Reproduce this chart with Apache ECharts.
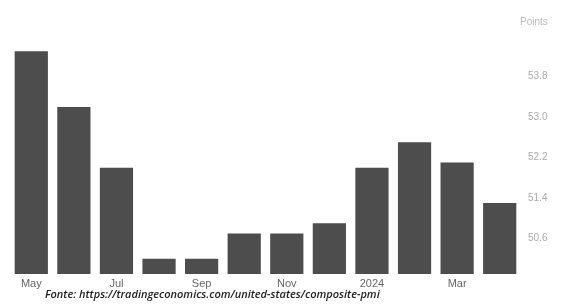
<!DOCTYPE html>
<html>
<head>
<meta charset="utf-8">
<style>
  html, body { margin: 0; padding: 0; background: #fff; }
  #chart { width: 575px; height: 305px; }
</style>
<script src="https://cdn.jsdelivr.net/npm/echarts@6/dist/echarts.min.js"></script>
</head>
<body>
<div id="chart"></div>
<script>
// meses (mai/2023 - abr/2024)
const months = ['May', 'Jun', 'Jul', 'Aug', 'Sep', 'Oct', 'Nov', 'Dec', '2024', 'Feb', 'Mar', 'Apr']
// PMI composto EUA
const pmiValues = [54.3, 53.2, 52.0, 50.2, 50.2, 50.7, 50.7, 50.9, 52.0, 52.5, 52.1, 51.3]
// rótulos do eixo y
const yTicks = [50.6, 51.4, 52.2, 53.0, 53.8]

const chart = echarts.init(document.getElementById('chart'))

const option = {
  animation: false,
  backgroundColor: '#fff',
  grid: { left: 10, right: 54, top: 36, bottom: 31 },
  xAxis: {
    type: 'category',
    data: months,
    axisLine: { show: false },
    axisTick: { show: false },
    axisLabel: {
      interval: 1,
      margin: 4,
      color: '#666',
      fontSize: 11,
      fontFamily: 'Liberation Sans'
    }
  },
  yAxis: {
    type: 'value',
    position: 'right',
    min: 49.9,
    max: 54.6,
    splitLine: { show: false },
    axisLine: { show: false },
    axisTick: { show: false },
    axisLabel: {
      customValues: yTicks,
      formatter: v => v.toFixed(1),
      margin: 7,
      color: '#aaa',
      fontSize: 10,
      fontFamily: 'Liberation Sans'
    }
  },
  series: [
    {
      type: 'bar',
      data: pmiValues,
      barCategoryGap: '22%',
      itemStyle: { color: '#4d4d4d' }
    }
  ],
  graphic: [
    {
      type: 'text',
      left: 520,
      top: 17,
      style: { text: 'Points', fill: '#bbb', fontSize: 10, fontFamily: 'Liberation Sans' }
    },
    {
      type: 'text',
      left: 45,
      top: 289,
      style: {
        text: 'Fonte: https://tradingeconomics.com/united-states/composite-pmi',
        fill: '#222',
        fontSize: 11,
        fontWeight: 600,
        fontStyle: 'italic',
        fontFamily: 'Open Sans'
      }
    }
  ]
}

chart.setOption(option)
</script>
</body>
</html>
